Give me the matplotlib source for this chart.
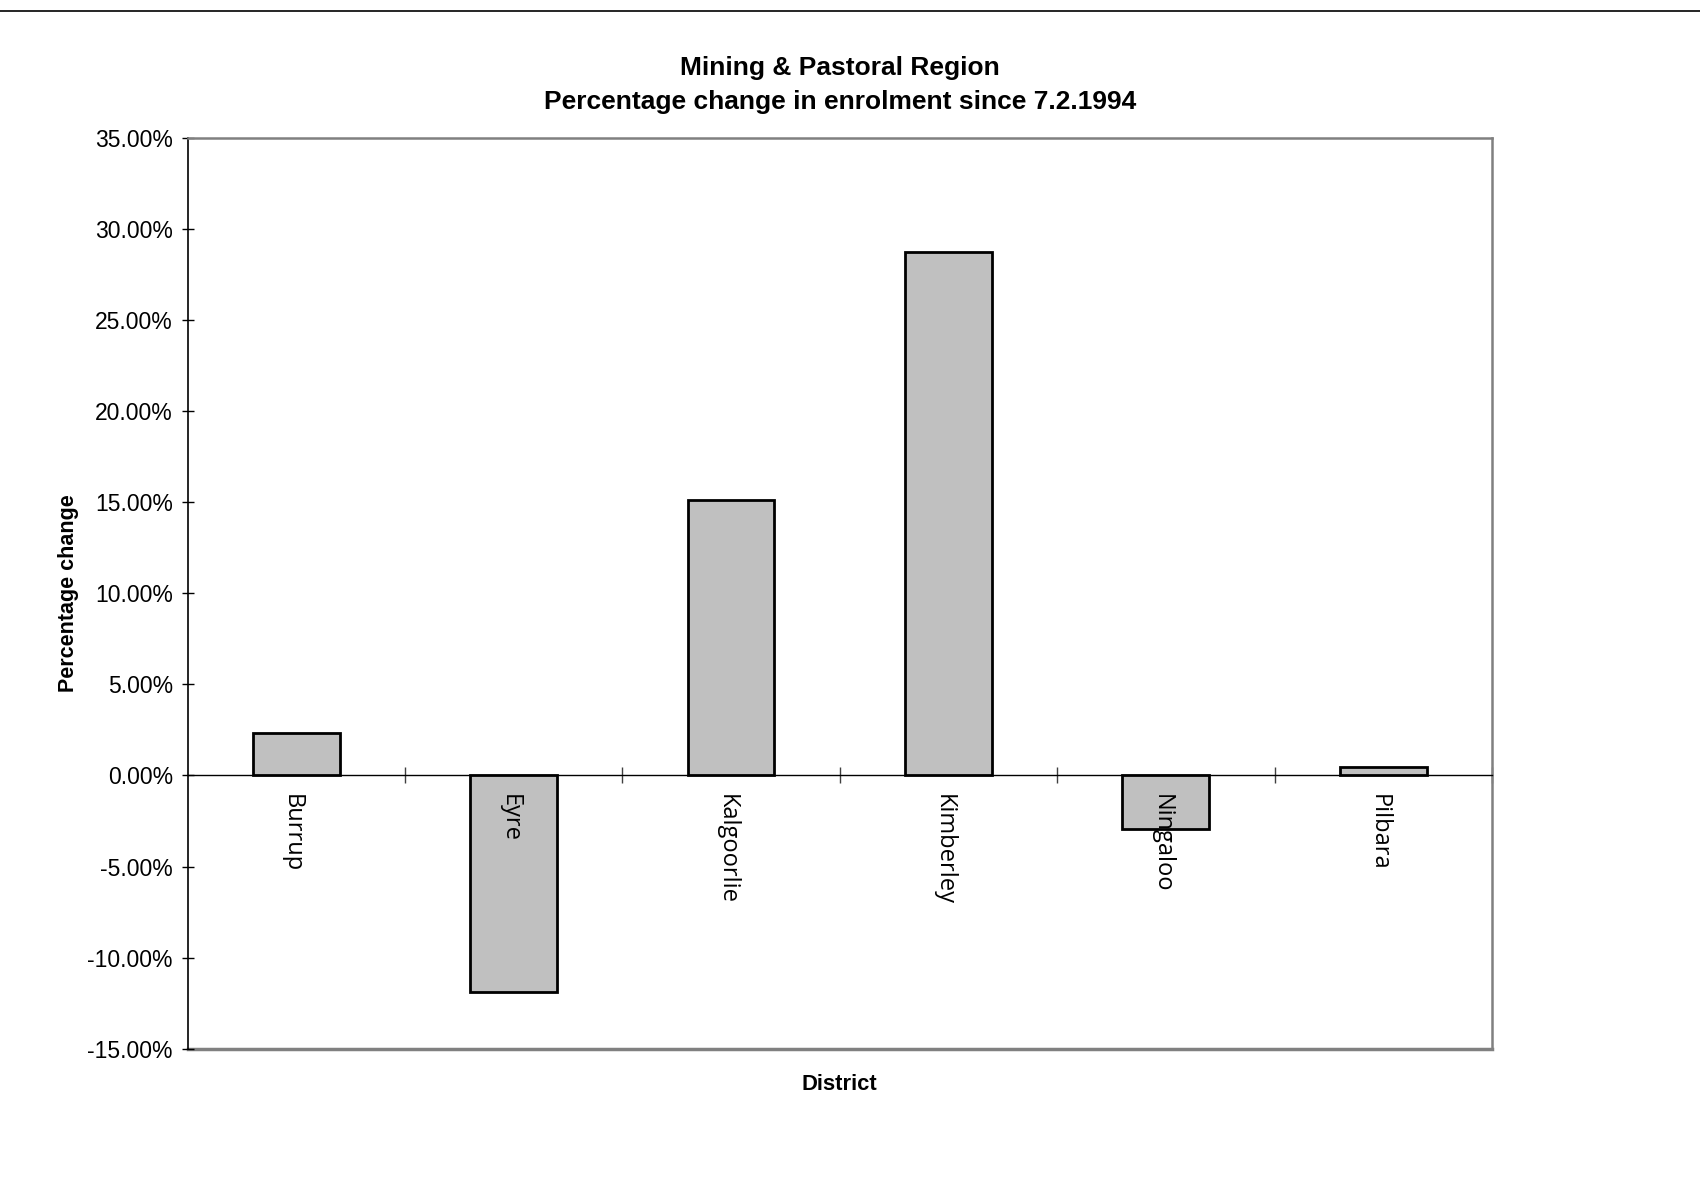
import matplotlib.pyplot as plt
from matplotlib.lines import Line2D
import numpy as np

# дані діаграми
districts = ['Burrup', 'Eyre', 'Kalgoorlie', 'Kimberley', 'Ningaloo', 'Pilbara']
change_pct = [2.32, -11.9, 15.12, 28.75, -2.92, 0.48]
y_ticks = [-15, -10, -5, 0, 5, 10, 15, 20, 25, 30, 35]
y_tick_labels = ['%.2f%%' % v for v in y_ticks]


def main():
    fig = plt.figure(figsize=(17, 11.79), dpi=100)
    ax = fig.add_axes([0.1103, 0.1104, 0.7673, 0.7728])

    x = np.arange(len(districts))
    ax.bar(x, change_pct, width=0.4, color='#c0c0c0', edgecolor='black', lw=2, zorder=3)

    ax.set_xlim(-0.5, len(districts) - 0.5)
    ax.set_ylim(-15, 35)
    ax.set_yticks(y_ticks)
    ax.set_yticklabels(y_tick_labels, family='Liberation Sans', fontsize=16.5)
    ax.tick_params(axis='y', direction='inout', length=9, width=1, pad=6)

    # нижня вісь проходить через нуль
    ax.spines['bottom'].set_position(('data', 0))
    ax.spines['bottom'].set_color('black')
    ax.spines['bottom'].set_linewidth(1)
    ax.spines['left'].set_color('black')
    ax.spines['left'].set_linewidth(1.2)
    for s in ['top', 'right']:
        ax.spines[s].set_color('#808080')
        ax.spines[s].set_linewidth(1.8)
    ax.axhline(-15, color='#808080', lw=2.5, clip_on=False, zorder=1)

    ax.set_xticks(x + 0.5)
    ax.set_xticklabels([])
    ax.tick_params(axis='x', which='major', direction='inout', length=11, width=1, color='#404040')

    # підписи районів під нульовою лінією, поверх стовпчиків
    for xi, name in zip(x, districts):
        ax.annotate(name, (xi, 0), xytext=(-3, -13), textcoords='offset points',
                    rotation=270, ha='center', va='top', family='Open Sans',
                    fontsize=17, zorder=5)

    ax.set_title('Mining & Pastoral Region\nPercentage change in enrolment since 7.2.1994',
                 family='Liberation Sans', fontweight='bold', fontsize=19,
                 linespacing=1.5, pad=21)
    ax.set_ylabel('Percentage change', family='Liberation Sans', fontweight='bold', fontsize=15.5)
    ax.yaxis.set_label_coords(-0.083, 0.5)
    fig.text(0.4937, 0.08, 'District', family='Liberation Sans', fontweight='bold',
             fontsize=15.8, ha='center', va='center')

    # лінія у верхній частині сторінки
    fig.add_artist(Line2D([0, 1], [0.9905, 0.9905], color='black', lw=1.2))

    fig.savefig('out.png', dpi=100)


if __name__ == '__main__':
    main()
